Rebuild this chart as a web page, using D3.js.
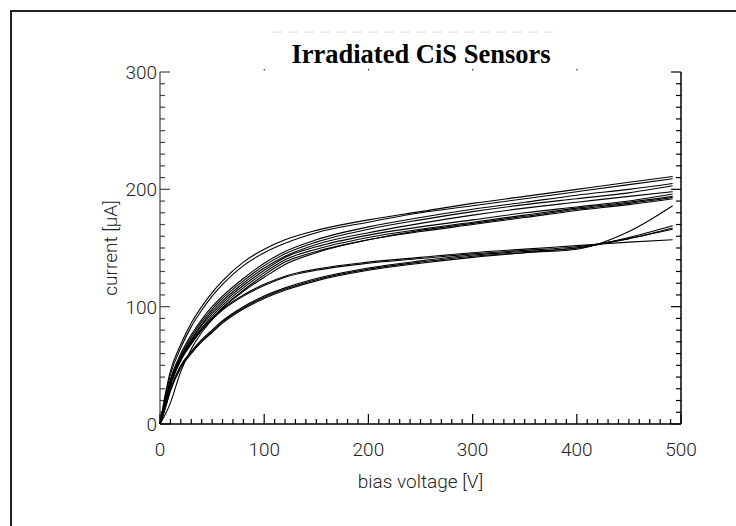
<!DOCTYPE html>
<html>
<head>
<meta charset="utf-8">
<script src="https://cdn.jsdelivr.net/npm/d3@7"></script>
<style>
body { margin: 0; background: #fff; }
</style>
</head>
<body>
<svg id="chart" width="736" height="526"></svg>
<script>
var voltages = [0, 5, 10, 20, 30, 40, 50, 60, 80, 100, 120, 150, 200, 250, 300, 350, 400, 450, 492];

// current [uA], one array per sensor
var sensorT1 = [0, 25, 45, 68, 86, 100, 112, 122, 138, 149, 157, 165, 174, 181, 188, 194, 200, 206, 211];
var sensorT2 = [0, 23, 42, 65, 83, 97, 109, 119, 135, 146, 154, 163, 172, 180, 186, 192, 198, 204, 209];
var sensorT3 = [0, 20, 38, 60, 76, 89, 100, 109, 124, 137, 147, 157, 168, 176, 183, 189, 195, 200, 205];
var sensorT4 = [0, 19, 36, 58, 74, 87, 98, 107, 122, 135, 145, 155, 166, 174, 181, 187, 192, 197, 203];
var sensorT5 = [0, 18, 35, 57, 72, 85, 96, 105, 120, 133, 143, 153, 163, 171, 178, 184, 189, 194, 198];
var sensorM1 = [0, 18, 34, 56, 71, 84, 94, 103, 118, 131, 142, 151, 161, 168, 174, 180, 185, 190, 196];
var sensorM2 = [0, 17, 33, 55, 70, 82, 92, 101, 116, 129, 140, 149, 159, 166, 172, 178, 184, 189, 194];
var sensorM3 = [0, 8, 18, 45, 64, 78, 89, 99, 114, 127, 138, 147, 157, 165, 171, 177, 183, 188, 193];
var sensorM4 = [0, 17, 33, 54, 68, 80, 90, 99, 113, 125, 136, 146, 157, 164, 170, 176, 182, 187, 192];
var sensorL1 = [0, 20, 37, 57, 70, 81, 90, 98, 110, 119, 126, 132, 138, 142, 146, 149, 152, 155, 157];
var sensorL2 = [0, 19, 36, 56, 69, 80, 89, 97, 109, 118, 125, 131, 137, 141, 145, 148, 151, 158, 167];
var sensorL3 = [0, 15, 30, 50, 62, 72, 80, 88, 100, 109, 116, 124, 133, 139, 144, 147, 150, 159, 169];
var sensorL4 = [0, 14, 29, 49, 61, 71, 79, 87, 99, 108, 115, 123, 132, 138, 143, 146, 149, 164, 186];
var sensorL5 = [0, 13, 28, 48, 60, 70, 78, 86, 98, 107, 114, 122, 131, 137, 142, 146, 150, 158, 166];

var sensors = [sensorT1, sensorT2, sensorT3, sensorT4, sensorT5,
               sensorM1, sensorM2, sensorM3, sensorM4,
               sensorL1, sensorL2, sensorL3, sensorL4, sensorL5];

var xTicks = [0, 100, 200, 300, 400, 500];
var yTicks = [0, 100, 200, 300];

var svg = d3.select("#chart");
var labelFont = "Roboto, 'DejaVu Sans', sans-serif";

// outer frame: only top and left edges show
svg.append("line")
    .attr("x1", 10).attr("x2", 736)
    .attr("y1", 11).attr("y2", 11)
    .attr("stroke", "#222").attr("stroke-width", 2);
svg.append("line")
    .attr("x1", 11).attr("x2", 11)
    .attr("y1", 10).attr("y2", 526)
    .attr("stroke", "#222").attr("stroke-width", 2);

var x = d3.scaleLinear().domain([0, 500]).range([160, 681]);
var y = d3.scaleLinear().domain([0, 300]).range([424, 72]);

var minorX = d3.range(0, 501, 10);
var minorY = d3.range(0, 301, 10);

// faint leftover line above the title
svg.append("line")
    .attr("x1", 273).attr("x2", 553)
    .attr("y1", 32).attr("y2", 32)
    .attr("stroke", "#d8d8d8")
    .attr("stroke-dasharray", "9,7");

// left axis (grey), ticks pointing inward
var left = svg.append("g");
left.append("line")
    .attr("x1", x(0)).attr("x2", x(0))
    .attr("y1", y(0)).attr("y2", y(300))
    .attr("stroke", "#666").attr("stroke-width", 1.5);
left.selectAll(".tk").data(minorY).join("line")
    .attr("x1", x(0))
    .attr("x2", function(d){ return x(0) + (d % 100 == 0 ? 10 : 5); })
    .attr("y1", function(d){ return y(d); })
    .attr("y2", function(d){ return y(d); })
    .attr("stroke", "#444").attr("stroke-width", 1.2);

// right axis, ticks pointing inward
var right = svg.append("g");
right.append("line")
    .attr("x1", x(500)).attr("x2", x(500))
    .attr("y1", y(0)).attr("y2", y(300))
    .attr("stroke", "#000").attr("stroke-width", 1.5);
right.selectAll(".tk").data(minorY).join("line")
    .attr("x1", x(500))
    .attr("x2", function(d){ return x(500) - (d % 100 == 0 ? 10 : 5); })
    .attr("y1", function(d){ return y(d); })
    .attr("y2", function(d){ return y(d); })
    .attr("stroke", "#000").attr("stroke-width", 1.2);

// bottom axis
var bottom = svg.append("g");
bottom.append("line")
    .attr("x1", x(0)).attr("x2", x(500))
    .attr("y1", y(0)).attr("y2", y(0))
    .attr("stroke", "#000").attr("stroke-width", 1.5);
bottom.selectAll(".tk").data(minorX).join("line")
    .attr("x1", function(d){ return x(d); })
    .attr("x2", function(d){ return x(d); })
    .attr("y1", y(0))
    .attr("y2", function(d){ return y(0) - (d % 100 == 0 ? 10 : 5); })
    .attr("stroke", "#000").attr("stroke-width", 1.2);

// top: only tiny marks at the major ticks
svg.append("g").selectAll("rect").data(xTicks.slice(1, 5)).join("rect")
    .attr("x", function(d){ return x(d) - 0.5; })
    .attr("y", 69)
    .attr("width", 1.2).attr("height", 1.5)
    .attr("fill", "#333");

// tick labels
svg.append("g").selectAll("text").data(xTicks).join("text")
    .attr("x", function(d){ return x(d); })
    .attr("y", 456)
    .attr("text-anchor", "middle")
    .style("font-family", labelFont)
    .attr("font-size", 19)
    .attr("font-weight", 300)
    .attr("fill", "#222")
    .text(function(d){ return d; });

svg.append("g").selectAll("text").data(yTicks).join("text")
    .attr("x", 157)
    .attr("y", function(d){ return y(d) + 7; })
    .attr("text-anchor", "end")
    .style("font-family", labelFont)
    .attr("font-size", 19)
    .attr("font-weight", 300)
    .attr("fill", "#222")
    .text(function(d){ return d; });

// axis titles
svg.append("text")
    .attr("x", x(250)).attr("y", 488)
    .attr("text-anchor", "middle")
    .style("font-family", labelFont)
    .attr("font-size", 19)
    .attr("font-weight", 300)
    .attr("fill", "#222")
    .text("bias voltage [V]");

svg.append("text")
    .attr("transform", "translate(117," + y(150) + ") rotate(-90)")
    .attr("text-anchor", "middle")
    .style("font-family", labelFont)
    .attr("font-size", 19)
    .attr("font-weight", 300)
    .attr("fill", "#222")
    .text("current [\u00b5A]");

svg.append("text")
    .attr("x", 421).attr("y", 63)
    .attr("text-anchor", "middle")
    .style("font-family", "'Liberation Serif', 'Times New Roman', serif")
    .attr("font-weight", "bold")
    .attr("font-size", 26.5)
    .attr("fill", "#000")
    .text("Irradiated CiS Sensors");

// sensor curves
var line = d3.line()
    .x(function(d, i){ return x(voltages[i]); })
    .y(function(d){ return y(d); })
    .curve(d3.curveMonotoneX);

svg.append("g").selectAll("path").data(sensors).join("path")
    .attr("d", line)
    .attr("fill", "none")
    .attr("stroke", "#000")
    .attr("stroke-width", 1.1);
</script>
</body>
</html>
